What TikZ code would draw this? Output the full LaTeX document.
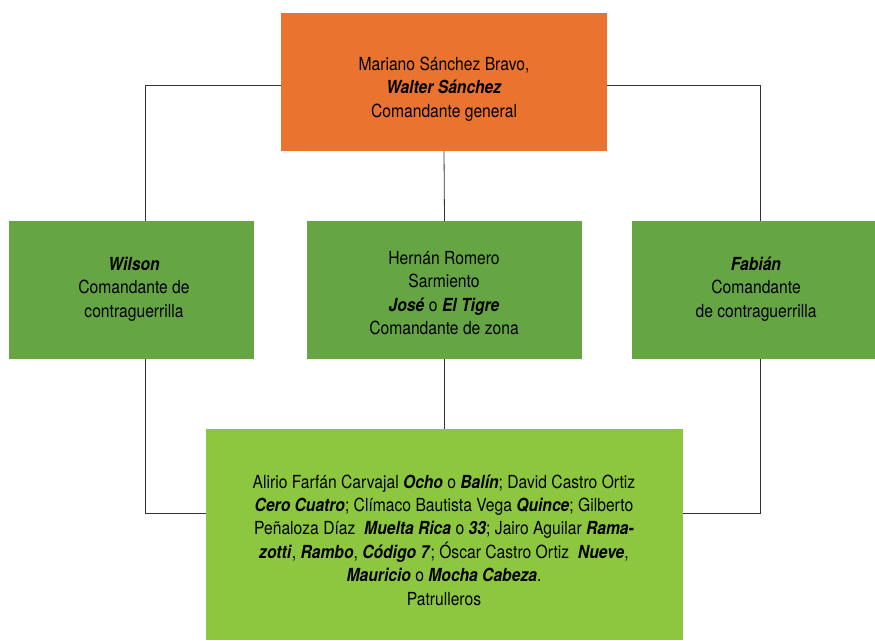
\documentclass[tikz,border=0pt]{standalone}
\usepackage{fontspec}
\setmainfont{TeX Gyre Heros}[FakeStretch=0.87]
\definecolor{orangebox}{HTML}{EA732F}
\definecolor{darkgreen}{HTML}{66A544}
\definecolor{lightgreen}{HTML}{8DC63F}
\definecolor{linegray}{HTML}{333333}
\newcommand{\bi}[1]{\textbf{\textit{#1}}}
\begin{document}
\begin{tikzpicture}[x=1pt,y=-1pt,
  box/.style={draw=none, inner sep=0pt, outer sep=0pt, anchor=north west},
  txt/.style={align=center, inner sep=0pt, font=\fontsize{18}{23.4}\selectfont, text=black},
  conn/.style={draw=linegray, line width=0.8pt}]
\useasboundingbox (0,0) rectangle (875,640);
% boxes
\node[box, fill=orangebox, minimum width=326pt, minimum height=138pt] (top) at (281,13) {};
\node[box, fill=darkgreen, minimum width=245pt, minimum height=138pt] (left) at (9,221) {};
\node[box, fill=darkgreen, minimum width=275pt, minimum height=138pt] (mid) at (307,221) {};
\node[box, fill=darkgreen, minimum width=243pt, minimum height=138pt] (right) at (632,221) {};
\node[box, fill=lightgreen, minimum width=477pt, minimum height=211pt] (bot) at (206,429) {};
% connector guides
\coordinate (lx) at (145,0);
\coordinate (rx) at (760,0);
\coordinate (tl) at (281,85);
\coordinate (tr) at (607,85);
\coordinate (bl) at (206,513);
\coordinate (br) at (683,513);
\draw[conn] (tl) -| (lx |- left.north);
\draw[conn] (tr) -| (rx |- right.north);
\draw[conn] (top.south) -- (mid.north);
\draw[conn] (lx |- left.south) |- (bl);
\draw[conn] (rx |- right.south) |- (br);
\draw[conn] (mid.south) -- (bot.north);
% texts
\node[txt] (ttop) at (444,89) {Mariano Sánchez Bravo,\\ \bi{Walter Sánchez}\\ Comandante general};
\node[txt] (tleft) at (134,289) {\bi{Wilson}\\ Comandante de\\ contraguerrilla};
\node[txt] (tmid) at (444,293) {Hernán Romero\\ Sarmiento\\ \bi{José} o \bi{El Tigre}\\ Comandante de zona};
\node[txt] (tright) at (756,289) {\bi{Fabián}\\ Comandante\\ de contraguerrilla};
\node[txt] (tbot) at (444,540) {Alirio Farfán Carvajal \bi{Ocho} o \bi{Balín}; David Castro Ortiz\\
\bi{Cero Cuatro}; Clímaco Bautista Vega \bi{Quince}; Gilberto\\
Peñaloza Díaz \ \bi{Muelta Rica} o \bi{33}; Jairo Aguilar \bi{Rama-}\\
\bi{zotti}, \bi{Rambo}, \bi{Código 7}; Óscar Castro Ortiz \ \bi{Nueve},\\
\bi{Mauricio} o \bi{Mocha Cabeza}.\\
Patrulleros};
\end{tikzpicture}
\end{document}
